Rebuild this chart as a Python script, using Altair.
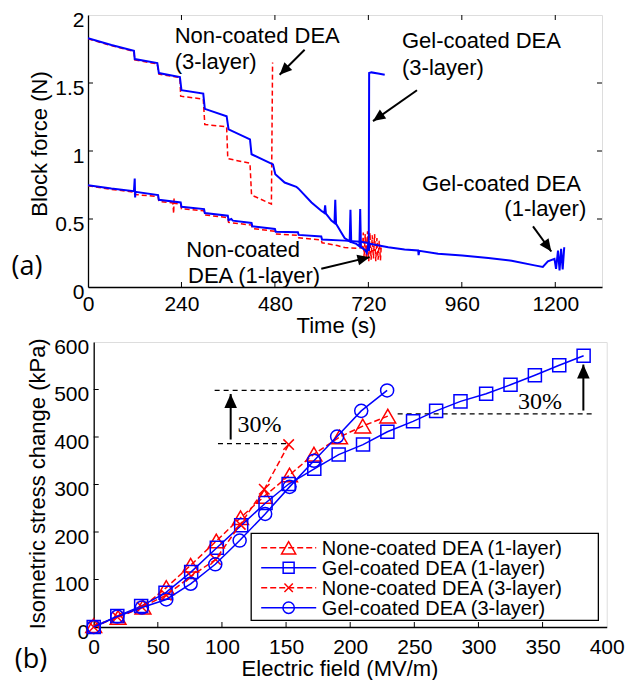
import math
import altair as alt
import pandas as pd

FONT = "Liberation Sans"
RED = "#ff0000"
BLUE = "#0000ff"

# ---------------- Panel (a): block force vs time ----------------
a_xticks = [0, 240, 480, 720, 960, 1200]
a_yticks = [0, 0.5, 1, 1.5, 2]

gel3_t = [0, 60, 118, 120, 178, 182, 236, 240, 296, 300, 356, 361, 416, 420, 475, 481, 505, 535, 540, 574,
          599, 607, 609, 611, 625, 633, 635, 637, 650, 659, 672, 674, 676, 689, 697, 699, 701, 712, 716, 719,
          721, 722, 728, 745, 762]
gel3_f = [1.830, 1.780, 1.737, 1.676, 1.647, 1.573, 1.544, 1.447, 1.422, 1.310, 1.256, 1.159, 1.085, 0.976,
          0.902, 0.829, 0.768, 0.737, 0.725, 0.622, 0.561, 0.545, 0.600, 0.540, 0.488, 0.470, 0.642, 0.465,
          0.402, 0.360, 0.335, 0.568, 0.330, 0.317, 0.300, 0.573, 0.293, 0.270, 0.250, 0.300, 0.270, 1.573,
          1.578, 1.570, 1.561]

non3_t = [0, 60, 118, 120, 178, 182, 236, 238, 296, 300, 356, 359, 416, 420, 471, 474]
non3_f = [1.825, 1.775, 1.732, 1.670, 1.640, 1.565, 1.540, 1.403, 1.381, 1.195, 1.178, 0.944, 0.910, 0.676,
          0.610, 1.651]

gel1_t = [0, 60, 118, 120, 121, 122, 180, 182, 238, 240, 298, 300, 359, 361, 368, 372, 420, 422, 480, 482,
          539, 541, 599, 601, 659, 700, 719, 721, 723, 771, 813, 848, 849, 851, 899, 961, 1028, 1088, 1147,
          1168, 1181, 1198, 1202, 1207, 1211, 1215, 1219, 1223]
gel1_f = [0.749, 0.724, 0.705, 0.797, 0.658, 0.700, 0.676, 0.641, 0.622, 0.590, 0.573, 0.544, 0.524, 0.492,
          0.500, 0.488, 0.471, 0.446, 0.427, 0.407, 0.402, 0.383, 0.371, 0.349, 0.341, 0.333, 0.324, 0.265,
          0.318, 0.292, 0.276, 0.268, 0.235, 0.266, 0.244, 0.232, 0.213, 0.193, 0.159, 0.147, 0.188, 0.207,
          0.134, 0.268, 0.122, 0.280, 0.130, 0.292]

non1_t = [0, 60, 118, 120, 180, 182, 218, 220, 221, 222, 238, 240, 298, 300, 359, 361, 420, 422, 480, 482,
          539, 541, 599, 601, 640, 659, 690, 705, 707, 709, 712, 715, 718, 721, 724, 727, 730, 733, 736, 739,
          742, 745, 748, 751, 753]
non1_f = [0.745, 0.718, 0.698, 0.680, 0.665, 0.630, 0.618, 0.540, 0.650, 0.615, 0.610, 0.575, 0.560, 0.530,
          0.510, 0.475, 0.455, 0.430, 0.410, 0.390, 0.380, 0.362, 0.345, 0.325, 0.305, 0.290, 0.285, 0.290,
          0.400, 0.210, 0.390, 0.200, 0.410, 0.190, 0.400, 0.200, 0.380, 0.210, 0.390, 0.190, 0.360, 0.200,
          0.340, 0.195, 0.300]

a_text = ["Non-coated DEA", "(3-layer)", "Gel-coated DEA", "(3-layer)", "Gel-coated DEA", "Non-coated",
          "DEA (1-layer)"]
a_text_t = [222.6, 222.6, 806.4, 806.4, 857.7, 252.4, 256.8]
a_text_f = [1.793, 1.605, 1.756, 1.559, 0.708, 0.2195, 0.031]
a_rtext = ["(1-layer)"]
a_rtext_t = [1279.6]
a_rtext_f = [0.520]

a_arrow_t1 = [556.3, 844.9, 1142.8, 599.1]
a_arrow_f1 = [1.744, 1.447, 0.446, 0.134]
a_arrow_t2 = [492.1, 731.9, 1189.8, 723.4]
a_arrow_f2 = [1.561, 1.220, 0.261, 0.2195]

# ---------------- Panel (b): stress vs electric field ----------------
b_xticks = [0, 50, 100, 150, 200, 250, 300, 350, 400]
b_yticks = [0, 100, 200, 300, 400, 500, 600]

non1_e = [0, 19, 38.4, 56.6, 75.6, 95.6, 114.5, 133, 152.7, 171.7, 191.7, 209.8, 229.3]
non1_s = [3, 20, 42, 83, 130, 181, 230, 275, 320, 364, 400, 423, 444]

gel1_e = [0, 18.4, 37, 56, 76, 96, 115, 134, 152, 172, 191, 210, 229, 249, 267, 286, 306, 325, 344, 363, 382]
gel1_s = [0, 23, 44, 72, 116, 167, 214, 261, 301, 333, 363, 384, 411, 433, 455, 475, 491, 510, 530, 551, 571]

non3_e = [0, 18.4, 37.6, 56.6, 76, 95, 114.3, 133, 152]
non3_s = [0, 21, 42, 67, 107, 142, 216, 290, 384]

gel3_e = [0, 18.4, 37.6, 56.6, 75.6, 94.8, 113.8, 133.7, 152.7, 171.7, 189.8, 208.6, 228.8]
gel3_s = [0, 22, 41, 58, 91, 132, 182, 238, 295, 350, 401, 455, 498]

legend_labels = ["None-coated DEA (1-layer)", "Gel-coated DEA (1-layer)",
                 "None-coated DEA (3-layer)", "Gel-coated DEA (3-layer)"]

b_dash_x1 = [94.3, 96.9, 237]
b_dash_x2 = [215, 150, 389]
b_dash_y = [498, 386, 448.6]
b_arrow_x = [106.8, 381.8]
b_arrow_y1 = [394.7, 455.7]
b_arrow_y2 = [490.6, 552.5]
b_pct_x = [129.3, 347.9]
b_pct_y = [424.8, 473.8]

# ---------------- layout constants ----------------
W_A, H_A = 514, 272
W_B, H_B = 513, 285
X_DOM_A, Y_DOM_A = [0, 1320], [0, 2]
X_DOM_B, Y_DOM_B = [0, 400], [0, 600]

ARROW = "M0,0L0.9,2L-0.9,2Z"
XSHAPE = "M-1,-1L1,1M-1,1L1,-1"

xa = alt.Scale(domain=X_DOM_A, nice=False, zero=False)
ya = alt.Scale(domain=Y_DOM_A, nice=False, zero=False)
xb = alt.Scale(domain=X_DOM_B, nice=False, zero=False)
yb = alt.Scale(domain=Y_DOM_B, nice=False, zero=False)

common_axis = dict(ticks=False, grid=False, domainColor="black", domainWidth=1.3,
                   labelFont=FONT, labelFontSize=21, labelColor="black", labelOverlap=False,
                   labelFlush=False, titleFont=FONT, titleFontSize=22, titleFontWeight="normal",
                   titleColor="black")

AX_XA = alt.Axis(values=a_xticks, format="d", labelPadding=6, title="Time (s)",
                 titleX=248, titleY=38, titleBaseline="middle", titleAlign="center", **common_axis)
AX_YA = alt.Axis(values=a_yticks, format="~g", labelPadding=4, labelOffset=5, title="Block force (N)",
                 titleX=-49, titleY=128.5, titleAngle=270, titleBaseline="middle", titleAlign="center",
                 **common_axis)
AX_XB = alt.Axis(values=b_xticks, format="d", labelPadding=9, title="Electric field (MV/m)",
                 titleX=245.8, titleY=41, titleBaseline="middle", titleAlign="center", **common_axis)
AX_YB = alt.Axis(values=b_yticks, format="d", labelPadding=5, labelOffset=5,
                 title="Isometric stress change (kPa)", titleX=-55.7, titleY=141.3, titleAngle=270,
                 titleBaseline="middle", titleAlign="center", **common_axis)


def XA(f="t"):
    return alt.X(f + ":Q", scale=xa, axis=AX_XA)


def YA(f="F"):
    return alt.Y(f + ":Q", scale=ya, axis=AX_YA)


def XB(f="e"):
    return alt.X(f + ":Q", scale=xb, axis=AX_XB)


def YB(f="s"):
    return alt.Y(f + ":Q", scale=yb, axis=AX_YB)


def series_a(t, f, color, width, dash=None):
    df = pd.DataFrame({"t": t, "F": f, "i": list(range(len(t)))})
    kw = dict(color=color, strokeWidth=width, clip=True)
    if dash:
        kw["strokeDash"] = dash
    return alt.Chart(df).mark_line(**kw).encode(x=XA(), y=YA(), order="i:Q")


sxa = W_A / (X_DOM_A[1] - X_DOM_A[0])
sya = H_A / (Y_DOM_A[1] - Y_DOM_A[0])


def angle_of(x1, y1, x2, y2, sx, sy):
    dx = (x2 - x1) * sx
    dy = -(y2 - y1) * sy
    return math.degrees(math.atan2(dx, -dy)) % 360


arr_a = pd.DataFrame({"t": a_arrow_t1, "F": a_arrow_f1, "t2": a_arrow_t2, "F2": a_arrow_f2})
arr_a["ang"] = [angle_of(a, b, c, d, sxa, sya) for a, b, c, d in
                zip(a_arrow_t1, a_arrow_f1, a_arrow_t2, a_arrow_f2)]

arrow_lines_a = alt.Chart(arr_a).mark_rule(color="black", strokeWidth=2).encode(
    x=XA(), y=YA(), x2="t2:Q", y2="F2:Q")
arrow_heads_a = alt.Chart(arr_a).mark_point(shape=ARROW, size=150, filled=True, color="black",
                                            opacity=1, strokeWidth=0).encode(
    x=XA("t2"), y=YA("F2"), angle=alt.Angle("ang:Q", scale=None))

txt_a = alt.Chart(pd.DataFrame({"t": a_text_t, "F": a_text_f, "txt": a_text})).mark_text(
    font=FONT, fontSize=22, align="left", baseline="alphabetic", color="black").encode(
    x=XA(), y=YA(), text="txt:N")
rtxt_a = alt.Chart(pd.DataFrame({"t": a_rtext_t, "F": a_rtext_f, "txt": a_rtext})).mark_text(
    font=FONT, fontSize=22, align="right", baseline="alphabetic", color="black").encode(
    x=XA(), y=YA(), text="txt:N")

# inward ticks, panel (a)
tx_a = pd.DataFrame({"t": a_xticks[1:]})
ty_a = pd.DataFrame({"F": a_yticks[1:-1]})
ticks_a = [
    alt.Chart(tx_a).mark_rule(color="black", strokeWidth=1).encode(x=XA(), y=alt.value(H_A), y2=alt.value(H_A - 5)),
    alt.Chart(tx_a).mark_rule(color="black", strokeWidth=1).encode(x=XA(), y=alt.value(0), y2=alt.value(5)),
    alt.Chart(ty_a).mark_rule(color="black", strokeWidth=1).encode(y=YA(), x=alt.value(0), x2=alt.value(5)),
    alt.Chart(ty_a).mark_rule(color="black", strokeWidth=1).encode(y=YA(), x=alt.value(W_A), x2=alt.value(W_A - 5)),
]

lab_a = alt.Chart(pd.DataFrame({"lab": ["(a)"]})).mark_text(
    font="Open Sans", fontSize=27, align="center", baseline="middle", color="black").encode(
    text="lab:N", x=alt.value(-61), y=alt.value(251.5))

panel_a = alt.layer(
    *ticks_a,
    series_a(non3_t, non3_f, RED, 1.5, [5, 3]),
    series_a(non1_t, non1_f, RED, 1.5, [5, 3]),
    series_a(gel3_t, gel3_f, BLUE, 2),
    series_a(gel1_t, gel1_f, BLUE, 2),
    arrow_lines_a, arrow_heads_a, txt_a, rtxt_a, lab_a,
).properties(width=W_A, height=H_A)

# ---------------- Panel (b) ----------------


def series_b(e, s, color, dash, shape, size):
    df = pd.DataFrame({"e": e, "s": s})
    kw = dict(color=color, strokeWidth=1.5)
    if dash:
        kw["strokeDash"] = dash
    line = alt.Chart(df).mark_line(**kw).encode(x=XB(), y=YB())
    pts = alt.Chart(df).mark_point(shape=shape, size=size, filled=False, color=color, strokeWidth=1.5,
                                   opacity=1).encode(x=XB(), y=YB())
    return [line, pts]


# legend (drawn in data coordinates of panel b)
leg_box = alt.Chart(pd.DataFrame({"e": [122.8], "e2": [393.5], "s": [14.1], "s2": [197]})).mark_rect(
    fill="white", stroke="black", strokeWidth=1.3).encode(x=XB(), x2="e2:Q", y=YB(), y2="s2:Q")
leg_rows_s = [166.8, 124.7, 82.6, 40.6]
leg_colors = [RED, BLUE, RED, BLUE]
leg_dash = [[6, 3], None, [6, 3], None]
leg_shape = ["triangle-up", "square", XSHAPE, "circle"]
leg_size = [200, 120, 70, 130]

leg_layers = [leg_box]
for k in range(4):
    d = pd.DataFrame({"e": [130.6], "e2": [173.5], "s": [leg_rows_s[k]], "m": [152], "txt": [legend_labels[k]],
                      "tx": [177.9]})
    kw = dict(color=leg_colors[k], strokeWidth=1.5)
    if leg_dash[k]:
        kw["strokeDash"] = leg_dash[k]
    leg_layers.append(alt.Chart(d).mark_rule(**kw).encode(x=XB(), x2="e2:Q", y=YB()))
    leg_layers.append(alt.Chart(d).mark_point(shape=leg_shape[k], size=leg_size[k], filled=False,
                                              color=leg_colors[k], strokeWidth=1.5, opacity=1).encode(
        x=XB("m"), y=YB()))
    leg_layers.append(alt.Chart(d).mark_text(font=FONT, fontSize=20, align="left", baseline="middle",
                                             color="black", dy=1).encode(x=XB("tx"), y=YB(), text="txt:N"))

dash_df = pd.DataFrame({"e": b_dash_x1, "e2": b_dash_x2, "s": b_dash_y})
dash_b = alt.Chart(dash_df).mark_rule(color="black", strokeWidth=1.3, strokeDash=[5, 4]).encode(
    x=XB(), x2="e2:Q", y=YB())
arr_b = pd.DataFrame({"e": b_arrow_x, "s": b_arrow_y1, "s2": b_arrow_y2})
arrow_lines_b = alt.Chart(arr_b).mark_rule(color="black", strokeWidth=2).encode(x=XB(), y=YB(), y2="s2:Q")
arrow_heads_b = alt.Chart(arr_b).mark_point(shape=ARROW, size=196, filled=True, color="black", opacity=1,
                                            strokeWidth=0).encode(x=XB(), y=YB("s2"))
pct_b = alt.Chart(pd.DataFrame({"e": b_pct_x, "s": b_pct_y, "txt": ["30%", "30%"]})).mark_text(
    font="Liberation Serif", fontSize=24, align="center", baseline="middle", color="black").encode(
    x=XB(), y=YB(), text="txt:N")

tx_b = pd.DataFrame({"e": b_xticks[1:-1]})
ty_b = pd.DataFrame({"s": b_yticks[1:-1]})
ticks_b = [
    alt.Chart(tx_b).mark_rule(color="black", strokeWidth=1).encode(x=XB(), y=alt.value(H_B), y2=alt.value(H_B - 5)),
    alt.Chart(ty_b).mark_rule(color="black", strokeWidth=1).encode(y=YB(), x=alt.value(0), x2=alt.value(5)),
]

lab_b = alt.Chart(pd.DataFrame({"lab": ["(b)"]})).mark_text(
    font="Open Sans", fontSize=27, align="center", baseline="middle", color="black").encode(
    text="lab:N", x=alt.value(-62.7), y=alt.value(318.3))

panel_b = alt.layer(
    *ticks_b,
    dash_b, arrow_lines_b, arrow_heads_b, pct_b,
    *series_b(non1_e, non1_s, RED, [6, 3], "triangle-up", 250),
    *series_b(gel1_e, gel1_s, BLUE, None, "square", 170),
    *series_b(non3_e, non3_s, RED, [6, 3], XSHAPE, 110),
    *series_b(gel3_e, gel3_s, BLUE, None, "circle", 170),
    *leg_layers,
    lab_b,
).properties(width=W_B, height=H_B)

# thin invisible spacer that shifts panel (b) a few pixels right, as in the reference
spacer = alt.Chart(pd.DataFrame({"z": [0]})).mark_point(opacity=0).encode(
    x=alt.value(0), y=alt.value(0)
).properties(width=1, height=H_B, view=alt.ViewBackground(stroke="transparent", strokeWidth=0))

row_b = alt.hconcat(spacer, panel_b, spacing=4.7, bounds="flush")

chart = alt.vconcat(panel_a, row_b, spacing=55, bounds="flush").properties(
    padding={"left": 3, "top": 0, "right": 0, "bottom": 0}
).configure_view(stroke="black", strokeWidth=1.3).configure(font=FONT)

chart.save("out.html", embed_options={"renderer": "svg", "actions": False})
